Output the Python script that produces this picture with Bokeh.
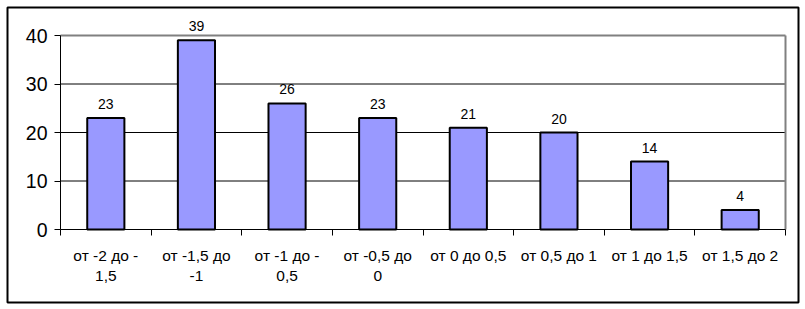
from bokeh.plotting import figure
from bokeh.models import Range1d, FixedTicker, Label
from bokeh.embed import file_html
from bokeh.resources import INLINE

categories = ["от -2 до -\n1,5", "от -1,5 до\n-1", "от -1 до -\n0,5", "от -0,5 до\n0",
              "от 0 до 0,5", "от 0,5 до 1", "от 1 до 1,5", "от 1,5 до 2"]
counts = [23, 39, 26, 23, 21, 20, 14, 4]
y_ticks = [0, 10, 20, 30, 40]
grid_values = [10, 20, 30]

FONT = "Liberation Sans"
n = len(categories)
xs = [i + 0.5 for i in range(n)]
y_top = 40

# The frame fills the chart's outer border; the value area sits inside it
W, H, M = 805, 309, 7
area_left, area_right, area_top, area_bottom = 60, 785, 35, 229
xpx = (area_right - area_left) / n
ypx = (area_bottom - area_top) / y_top
x_range = Range1d(-(area_left - M) / xpx, n + (W - M - area_right) / xpx)
y_range = Range1d(-(H - M - area_bottom) / ypx, y_top + (area_top - M) / ypx)

p = figure(width=W, height=H, output_backend="svg", toolbar_location=None,
           x_range=x_range, y_range=y_range,
           min_border_left=M, min_border_right=M, min_border_top=M, min_border_bottom=M)
p.background_fill_color = "white"
p.border_fill_color = "white"
p.outline_line_color = "black"
p.outline_line_width = 2

# gridlines and plot-area border (gray top and right edges)
p.segment(x0=[0] * len(grid_values), y0=grid_values, x1=[n] * len(grid_values), y1=grid_values,
          line_color="black", line_width=1)
p.segment(x0=[0, n], y0=[y_top, 0], x1=[n, n], y1=[y_top, y_top],
          line_color="#808080", line_width=2)

p.vbar(x=xs, top=counts, bottom=0, width=0.41,
       fill_color="#9999FF", line_color="black", line_width=2)
for x, c in zip(xs, counts):
    p.add_layout(Label(x=x, y=c, text=str(c), text_align="center",
                       text_baseline="bottom", y_offset=9, text_font=FONT,
                       text_font_size="14px", text_color="black"))

# x axis
p.xaxis.fixed_location = 0
p.xaxis.bounds = (0, n)
p.xaxis.ticker = FixedTicker(ticks=xs, minor_ticks=list(range(n + 1)))
p.xaxis.major_label_overrides = {x: c for x, c in zip(xs, categories)}
p.xaxis.major_tick_out = 0
p.xaxis.major_tick_in = 0
p.xaxis.minor_tick_out = 6
p.xaxis.minor_tick_in = 0
p.xaxis.minor_tick_line_color = "black"
p.xaxis.axis_line_color = "black"
p.xaxis.axis_line_width = 1
p.xaxis.major_label_standoff = 11
p.xaxis.major_label_text_font = FONT
p.xaxis.major_label_text_font_size = "15.5px"
p.xaxis.major_label_text_color = "black"

# y axis
p.yaxis.fixed_location = 0
p.yaxis.bounds = (0, y_top)
p.yaxis.ticker = FixedTicker(ticks=y_ticks)
p.yaxis.major_tick_out = 6
p.yaxis.major_tick_in = 0
p.yaxis.minor_tick_line_color = None
p.yaxis.axis_line_color = "black"
p.yaxis.major_label_standoff = 7
p.yaxis.major_label_text_font = FONT
p.yaxis.major_label_text_font_size = "19.5px"
p.yaxis.major_label_text_color = "black"

p.xgrid.grid_line_color = None
p.ygrid.grid_line_color = None

open("out.html", "w").write(file_html(p, INLINE))
